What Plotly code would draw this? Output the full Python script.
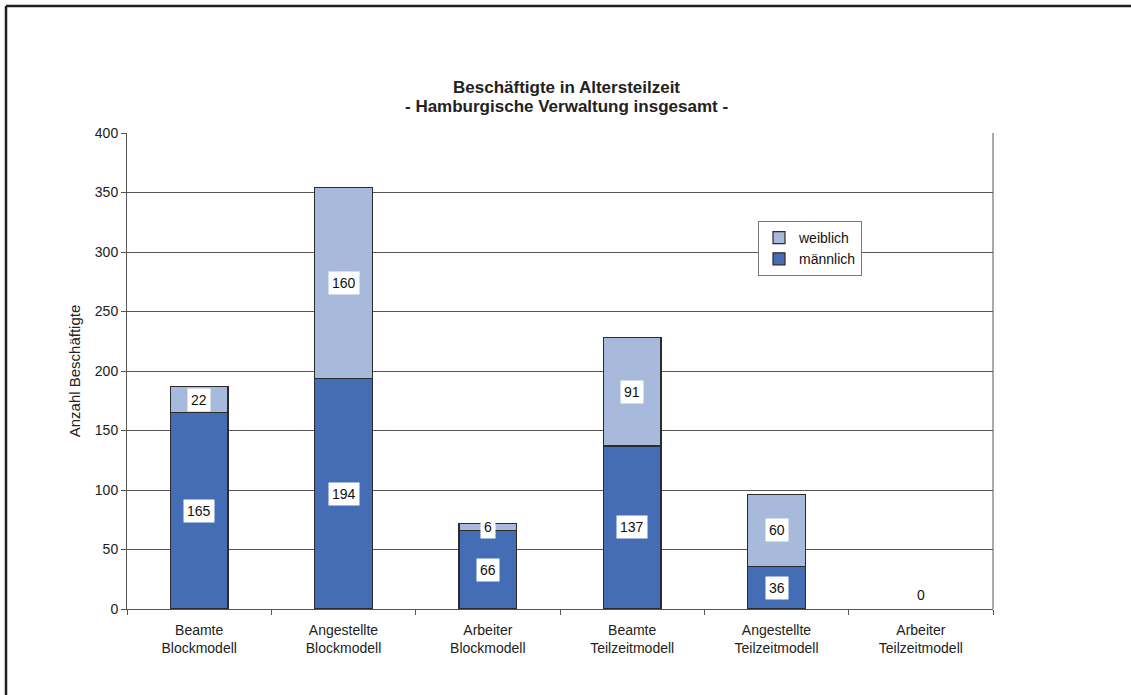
import plotly.graph_objects as go

categories = ["Beamte<br>Blockmodell", "Angestellte<br>Blockmodell", "Arbeiter<br>Blockmodell",
              "Beamte<br>Teilzeitmodell", "Angestellte<br>Teilzeitmodell", "Arbeiter<br>Teilzeitmodell"]
maennlich = [165, 194, 66, 137, 36, 0]
weiblich = [22, 160, 6, 91, 60, 0]
y_ticks = [0, 50, 100, 150, 200, 250, 300, 350, 400]
title_lines = ["Beschäftigte in Altersteilzeit", "- Hamburgische Verwaltung insgesamt -"]

dark = "#456DB6"
light = "#A7BADC"
edge = "#2b2b2b"
FONT = "Arial, Liberation Sans"

def widths(vals):
    return [1.2 if v > 0 else 0 for v in vals]

fig = go.Figure()
fig.add_trace(go.Bar(x=categories, y=maennlich, name="männlich",
                     marker=dict(color=dark, line=dict(color=edge, width=widths(maennlich)))))
fig.add_trace(go.Bar(x=categories, y=weiblich, name="weiblich",
                     marker=dict(color=light, line=dict(color=edge, width=widths(weiblich)))))

L, R, T, B = 127, 138, 133, 86
PW, PH = 1131 - L - R, 695 - T - B

lab_font = dict(family=FONT, size=14, color="#111")
annos = []
for c, m, w in zip(categories, maennlich, weiblich):
    if m + w == 0:
        annos.append(dict(x=c, y=0, text="0", showarrow=False, yshift=14, yanchor="middle", font=lab_font))
        continue
    for base, v in ((0, m), (m, w)):
        if v > 0:
            annos.append(dict(x=c, y=base + v / 2, text=str(v), showarrow=False, bgcolor="white",
                              borderpad=3, font=lab_font))

for line, yc in zip(title_lines, [88, 107]):
    annos.append(dict(text="<b>%s</b>" % line, x=(566 - L) / PW, xref="paper",
                      y=(695 - B - yc) / PH, yref="paper", xanchor="center", yanchor="middle",
                      showarrow=False, font=dict(family=FONT, size=17, color="#222")))

fig.update_layout(
    barmode="stack",
    bargap=0.6,
    width=1131, height=695,
    margin=dict(l=L, r=R, t=T, b=B, autoexpand=False),
    paper_bgcolor="white", plot_bgcolor="white",
    font=dict(family=FONT, size=14, color="#222"),
    legend=dict(x=(758 - L) / PW, y=(695 - B - 221) / PH, xref="paper", yref="paper", xanchor="left", yanchor="top",
                traceorder="reversed", bgcolor="white", bordercolor="#777", borderwidth=1,
                font=dict(size=14, color="#111"), itemwidth=30, tracegroupgap=0),
    annotations=annos,
    showlegend=True,
)
fig.update_yaxes(range=[0, 400], tickvals=y_ticks, showgrid=True, gridcolor="#555", gridwidth=1,
                 showline=True, linecolor="#555", linewidth=1, ticks="outside", ticklen=5, tickcolor="#555",
                 title=dict(text="Anzahl Beschäftigte", font=dict(size=15), standoff=10),
                 tickfont=dict(size=14, color="#222"), zeroline=False)
fig.update_xaxes(showline=True, linecolor="#555", linewidth=1, ticks="outside", ticklen=5, tickcolor="#555",
                 tickson="boundaries", tickfont=dict(size=14, color="#222"), mirror=False,
                 ticklabelstandoff=8)
# right frame line of plot area
fig.add_shape(type="line", xref="paper", yref="paper", x0=1, x1=1, y0=0, y1=1, line=dict(color="#555", width=1))
# outer chart frame (top and left edges)
fx = (6 - L) / PW
fy = (695 - B - 6) / PH
fig.add_shape(type="line", xref="paper", yref="paper", x0=fx, x1=2, y0=fy, y1=fy,
              line=dict(color="#231f20", width=2.5))
fig.add_shape(type="line", xref="paper", yref="paper", x0=fx, x1=fx, y0=fy, y1=-1,
              line=dict(color="#231f20", width=2.5))

fig.write_html("out.html")
